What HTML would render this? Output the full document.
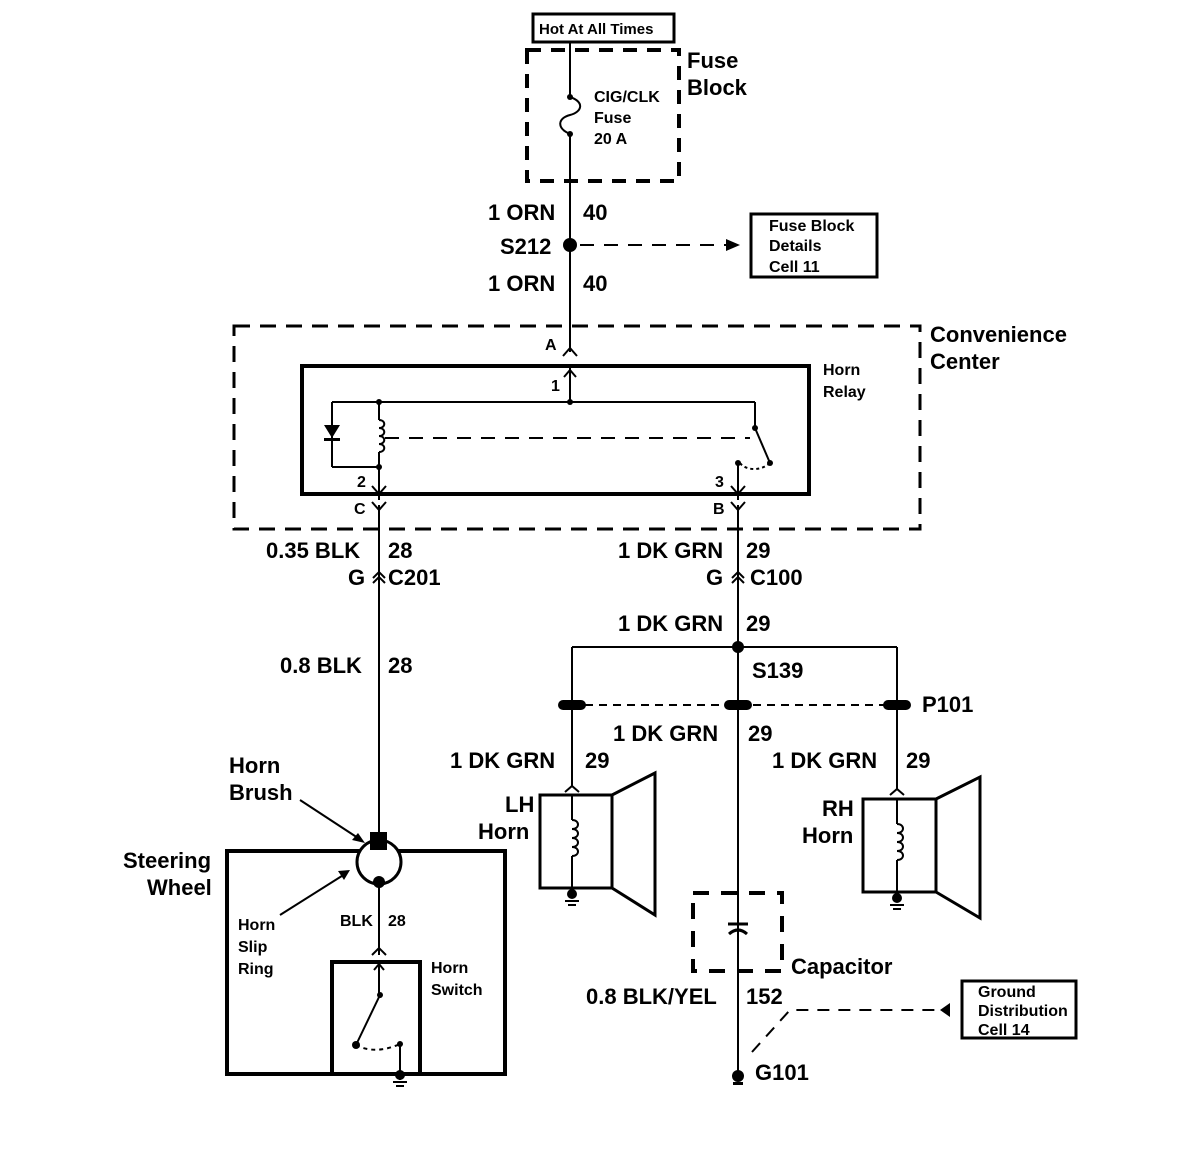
<!DOCTYPE html>
<html><head><meta charset="utf-8"><style>
html,body{margin:0;padding:0;background:#fff;}
svg{display:block;}
text{font-family:"Liberation Sans",sans-serif;fill:#000;}
.b{font-size:22px;font-weight:bold;}
.s{font-size:16px;font-weight:bold;}
</style></head><body>
<svg width="1184" height="1164" viewBox="0 0 1184 1164" xmlns="http://www.w3.org/2000/svg">
<g fill="none" stroke="#000" stroke-width="2">
<!-- Hot at all times -->
<rect x="533" y="14" width="141" height="28" stroke-width="3"/>
<rect x="527" y="50" width="152" height="131" stroke-width="4" stroke-dasharray="14,10"/>
<line x1="570" y1="42" x2="570" y2="97"/>
<path d="M570,97 C585,102 582,112 570,115 C558,118 556,128 570,134"/>
<line x1="570" y1="134" x2="570" y2="352"/>
<!-- fuse block details -->
<line x1="580" y1="245" x2="730" y2="245" stroke-dasharray="14,10"/>
<rect x="751" y="214" width="126" height="63" stroke-width="3"/>
<!-- convenience center -->
<rect x="234" y="326" width="686" height="203" stroke-width="3" stroke-dasharray="16,10"/>
<path d="M563,356 L570,348 L577,356"/>
<rect x="302" y="366" width="507" height="128" stroke-width="4"/>
<line x1="570" y1="368" x2="570" y2="402"/>
<path d="M564,377 L570,370 L576,377"/>
<line x1="332" y1="402" x2="755" y2="402"/>
<line x1="755" y1="402" x2="755" y2="428"/>
<line x1="755" y1="428" x2="770" y2="463"/>
<line x1="332" y1="402" x2="332" y2="467"/>
<line x1="332" y1="467" x2="379" y2="467"/>
<line x1="379" y1="402" x2="379" y2="420"/>
<path d="M379,420 c7,0 7,8 0,8 c7,0 7,8 0,8 c7,0 7,8 0,8 c7,0 7,8 0,8"/>
<line x1="379" y1="452" x2="379" y2="500"/>
<line x1="385" y1="438" x2="750" y2="438" stroke-dasharray="14,10"/>
<line x1="738" y1="463" x2="738" y2="500"/>
<path d="M740,463 C745,470 760,472 770,463" stroke-dasharray="3,3"/>
<path d="M372,486 L379,494 L386,486"/>
<path d="M731,486 L738,494 L745,486"/>
<path d="M372,502 L379,510 L386,502"/>
<path d="M731,502 L738,510 L745,502"/>
<!-- left wire -->
<line x1="379" y1="505" x2="379" y2="835"/>
<path d="M373,578 L379,572 L385,578"/>
<path d="M373,583 L379,577 L385,583"/>
<!-- right wire -->
<line x1="738" y1="505" x2="738" y2="1075"/>
<path d="M732,578 L738,572 L744,578"/>
<path d="M732,583 L738,577 L744,583"/>
<line x1="572" y1="647" x2="897" y2="647"/>
<line x1="572" y1="647" x2="572" y2="787"/>
<line x1="897" y1="647" x2="897" y2="790"/>
<line x1="585" y1="705" x2="885" y2="705" stroke-dasharray="8,6"/>
<!-- LH horn -->
<path d="M565,792 L572,786 L579,792"/>
<rect x="540" y="795" width="72" height="93" stroke-width="3"/>
<path d="M612,795 L655,773 L655,915 L612,888" stroke-width="3"/>
<line x1="572" y1="795" x2="572" y2="820"/>
<path d="M572,820 c8,0 8,9 0,9 c8,0 8,9 0,9 c8,0 8,9 0,9 c8,0 8,9 0,9"/>
<line x1="572" y1="856" x2="572" y2="898"/>
<!-- RH horn -->
<path d="M890,795 L897,789 L904,795"/>
<rect x="863" y="799" width="73" height="93" stroke-width="3"/>
<path d="M936,799 L980,777 L980,918 L936,892" stroke-width="3"/>
<line x1="897" y1="799" x2="897" y2="824"/>
<path d="M897,824 c8,0 8,9 0,9 c8,0 8,9 0,9 c8,0 8,9 0,9 c8,0 8,9 0,9"/>
<line x1="897" y1="860" x2="897" y2="902"/>
<!-- capacitor -->
<rect x="693" y="893" width="89" height="78" stroke-width="4" stroke-dasharray="16,12"/>
<line x1="728" y1="924" x2="748" y2="924" stroke-width="3"/>
<path d="M729,934 Q738,926 747,934" stroke-width="3"/>
<!-- ground distribution -->
<path d="M752,1052 L790,1010 L940,1010" stroke-dasharray="12,9"/>
<rect x="962" y="981" width="114" height="57" stroke-width="3"/>
<!-- steering wheel -->
<rect x="227" y="851" width="278" height="223" stroke-width="4"/>
<circle cx="379" cy="862" r="22" fill="#fff" stroke-width="3"/>
<line x1="379" y1="882" x2="379" y2="955"/>
<path d="M372,955 L379,948 L386,955"/>
<rect x="332" y="962" width="88" height="112" stroke-width="4"/>
<line x1="379" y1="962" x2="379" y2="995"/>
<path d="M374,970 L379,964 L384,970"/>
<line x1="380" y1="995" x2="356" y2="1045"/>
<path d="M356,1045 Q375,1055 400,1044" stroke-dasharray="4,4"/>
<line x1="400" y1="1044" x2="400" y2="1080"/>
<!-- arrows for labels -->
<line x1="300" y1="800" x2="358" y2="838"/>
<line x1="280" y1="915" x2="345" y2="874"/>
</g>
<g fill="#000">
<circle cx="570" cy="97" r="3"/><circle cx="570" cy="134" r="3"/>
<circle cx="570" cy="245" r="7"/>
<polygon points="726,239 740,245 726,251"/>
<circle cx="570" cy="402" r="3"/><circle cx="379" cy="402" r="3"/>
<circle cx="379" cy="467" r="3"/><circle cx="755" cy="428" r="3"/>
<circle cx="770" cy="463" r="3"/><circle cx="738" cy="463" r="3"/>
<polygon points="324,425 340,425 332,438"/>
<rect x="324" y="438" width="16" height="3"/>
<circle cx="738" cy="647" r="6"/>
<rect x="558" y="700" width="28" height="10" rx="5"/>
<rect x="724" y="700" width="28" height="10" rx="5"/>
<rect x="883" y="700" width="28" height="10" rx="5"/>
<circle cx="572" cy="894" r="5"/><rect x="565" y="900" width="14" height="2"/><rect x="568" y="904" width="8" height="2"/>
<circle cx="897" cy="898" r="5"/><rect x="890" y="904" width="14" height="2"/><rect x="893" y="908" width="8" height="2"/>
<circle cx="738" cy="1076" r="6"/><rect x="733" y="1082" width="10" height="3"/>
<polygon points="950,1003 950,1017 940,1010"/>
<rect x="370" y="832" width="17" height="18"/>
<circle cx="379" cy="882" r="6"/>
<circle cx="380" cy="995" r="3"/><circle cx="356" cy="1045" r="4"/><circle cx="400" cy="1044" r="3"/>
<circle cx="400" cy="1075" r="5"/><rect x="393" y="1081" width="14" height="2"/><rect x="396" y="1085" width="8" height="2"/>
<polygon points="365,843 352,840 358,833"/>
<polygon points="350,870 344,880 338,871"/>
</g>
<text x="539" y="34" style="font-size:15px;font-weight:bold">Hot At All Times</text>
<text x="594" y="102" class="s">CIG/CLK</text>
<text x="594" y="123" class="s">Fuse</text>
<text x="594" y="144" class="s">20 A</text>
<text x="687" y="68" class="b">Fuse</text>
<text x="687" y="95" class="b">Block</text>
<text x="488" y="220" class="b">1 ORN</text><text x="583" y="220" class="b">40</text>
<text x="500" y="254" class="b">S212</text>
<text x="488" y="291" class="b">1 ORN</text><text x="583" y="291" class="b">40</text>
<text x="769" y="231" class="s">Fuse Block</text>
<text x="769" y="251" class="s">Details</text>
<text x="769" y="272" class="s">Cell 11</text>
<text x="930" y="342" class="b">Convenience</text>
<text x="930" y="369" class="b">Center</text>
<text x="545" y="350" class="s">A</text>
<text x="551" y="391" class="s">1</text>
<text x="823" y="375" class="s">Horn</text>
<text x="823" y="397" class="s">Relay</text>
<text x="357" y="487" class="s">2</text>
<text x="715" y="487" class="s">3</text>
<text x="354" y="514" class="s">C</text>
<text x="713" y="514" class="s">B</text>
<text x="266" y="558" class="b">0.35 BLK</text><text x="388" y="558" class="b">28</text>
<text x="348" y="585" class="b">G</text><text x="388" y="585" class="b">C201</text>
<text x="280" y="673" class="b">0.8 BLK</text><text x="388" y="673" class="b">28</text>
<text x="618" y="558" class="b">1 DK GRN</text><text x="746" y="558" class="b">29</text>
<text x="706" y="585" class="b">G</text><text x="750" y="585" class="b">C100</text>
<text x="618" y="631" class="b">1 DK GRN</text><text x="746" y="631" class="b">29</text>
<text x="752" y="678" class="b">S139</text>
<text x="922" y="712" class="b">P101</text>
<text x="613" y="741" class="b">1 DK GRN</text><text x="748" y="741" class="b">29</text>
<text x="450" y="768" class="b">1 DK GRN</text><text x="585" y="768" class="b">29</text>
<text x="772" y="768" class="b">1 DK GRN</text><text x="906" y="768" class="b">29</text>
<text x="505" y="812" class="b">LH</text><text x="478" y="839" class="b">Horn</text>
<text x="822" y="816" class="b">RH</text><text x="802" y="843" class="b">Horn</text>
<text x="229" y="773" class="b">Horn</text><text x="229" y="800" class="b">Brush</text>
<text x="123" y="868" class="b">Steering</text><text x="147" y="895" class="b">Wheel</text>
<text x="238" y="930" class="s">Horn</text><text x="238" y="952" class="s">Slip</text><text x="238" y="974" class="s">Ring</text>
<text x="340" y="926" class="s">BLK</text><text x="388" y="926" class="s">28</text>
<text x="431" y="973" class="s">Horn</text><text x="431" y="995" class="s">Switch</text>
<text x="791" y="974" class="b">Capacitor</text>
<text x="586" y="1004" class="b">0.8 BLK/YEL</text><text x="746" y="1004" class="b">152</text>
<text x="978" y="997" class="s">Ground</text>
<text x="978" y="1016" class="s">Distribution</text>
<text x="978" y="1035" class="s">Cell 14</text>
<text x="755" y="1080" class="b">G101</text>
</svg>
</body></html>
